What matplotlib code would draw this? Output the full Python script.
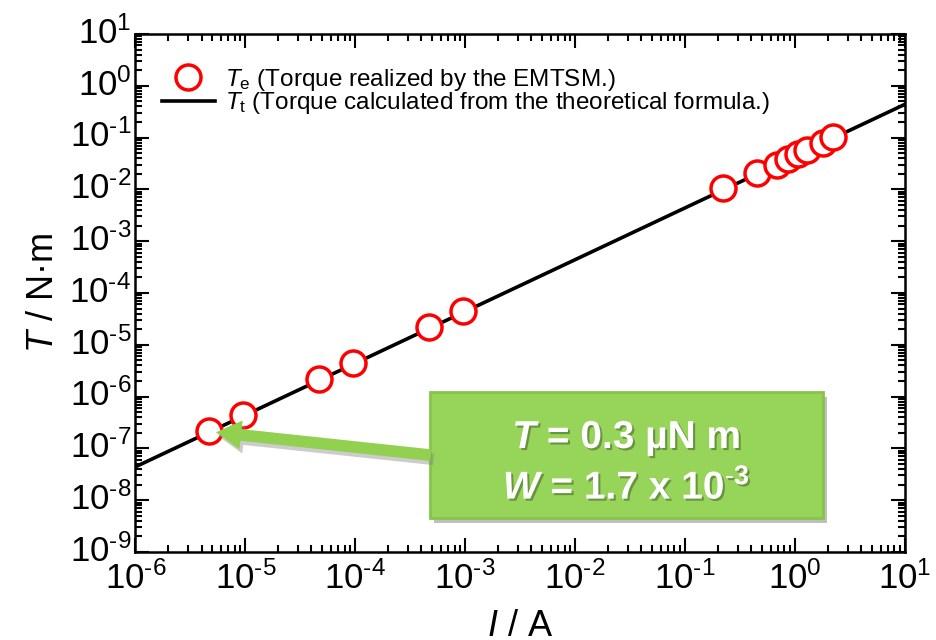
import numpy as np
import matplotlib
matplotlib.use("Agg")
import matplotlib.pyplot as plt
from matplotlib.ticker import LogLocator, NullFormatter, FuncFormatter
from matplotlib.lines import Line2D
from matplotlib.patches import FancyBboxPatch
from matplotlib.transforms import ScaledTranslation
import matplotlib.patheffects as pe

plt.rcParams['font.family'] = ['Liberation Sans', 'DejaVu Sans']
plt.rcParams['mathtext.fontset'] = 'custom'
plt.rcParams['mathtext.rm'] = 'Liberation Sans'
plt.rcParams['mathtext.it'] = 'Liberation Sans:italic'
plt.rcParams['mathtext.bf'] = 'Liberation Sans:bold'
plt.rcParams['mathtext.bfit'] = 'Liberation Sans:italic:bold'
plt.rcParams['axes.unicode_minus'] = False

current = [4.7e-6, 9.5e-6, 4.7e-5, 9.5e-5, 4.7e-4, 9.5e-4,
           0.22, 0.45, 0.68, 0.86, 1.06, 1.29, 1.79, 2.2]
torque = [2.2e-7, 4.5e-7, 2.2e-6, 4.5e-6, 2.2e-5, 4.5e-5,
          0.0106, 0.0207, 0.0296, 0.0386, 0.048, 0.0577, 0.0787, 0.103]

# theoretical line end points
line_current = [1e-6, 10]
line_torque = [4.4e-8, 0.44]


def pow_label(v, pos):
    e = int(round(np.log10(v)))
    if e < 0:
        return r'$10^{\text{-}%d}$' % (-e)
    return r'$10^{%d}$' % e


fig = plt.figure(figsize=(9.36, 6.4), dpi=100)
ax = fig.add_axes([0.1446, 0.1375, 0.8223, 0.8094])

ax.plot(line_current, line_torque, color='black', lw=2.6, zorder=2)
ax.plot(current, torque, 'o', ms=18, mfc='white', mec='red', mew=2.5, zorder=3,
        clip_on=False)

ax.set_xscale('log')
ax.set_yscale('log')
ax.set_xlim(1e-6, 10)
ax.set_ylim(1e-9, 10)

for a in (ax.xaxis, ax.yaxis):
    a.set_major_locator(LogLocator(base=10, numticks=30))
    a.set_minor_locator(LogLocator(base=10, subs=np.arange(2, 10), numticks=30))
    a.set_major_formatter(FuncFormatter(pow_label))
    a.set_minor_formatter(NullFormatter())

ax.tick_params(which='both', direction='in', top=True, right=True, width=1.5)
ax.tick_params(which='major', length=10, labelsize=25)
ax.tick_params(which='minor', length=5)
ax.tick_params(axis='x', pad=7)
ax.tick_params(axis='y', pad=3)
for s in ax.spines.values():
    s.set_linewidth(1.8)

# y tick labels sit a little high in the original
for lab in ax.get_yticklabels():
    lab.set_transform(lab.get_transform() + ScaledTranslation(0, 3 / 72, fig.dpi_scale_trans))

ax.set_xlabel(r'$\mathit{I}$ / A', fontsize=26, labelpad=9)
ax.set_ylabel(r'$\mathit{T}$ / N·m', fontsize=26, labelpad=6)

handles = [Line2D([], [], marker='o', ls='none', ms=18, mfc='white', mec='red', mew=2.5),
           Line2D([], [], color='black', lw=2.6)]
labels = [r'$\mathit{T}_\mathrm{e}$ (Torque realized by the EMTSM.)',
          r'$\mathit{T}_\mathrm{t}$ (Torque calculated from the theoretical formula.)']
ax.legend(handles, labels, loc='upper left', bbox_to_anchor=(0.012, 0.97),
          frameon=False, fontsize=17.5, handlelength=2.2, handletextpad=0.4,
          labelspacing=-0.1, borderaxespad=0.3)

# green callout box
box = FancyBboxPatch((0.383, 0.066), 0.510, 0.243, boxstyle='square,pad=0',
                     transform=ax.transAxes, facecolor='#97D45A',
                     edgecolor='#86C44A', lw=2, zorder=4,
                     path_effects=[pe.withSimplePatchShadow(offset=(3, -4),
                                                            shadow_rgbFace='gray',
                                                            alpha=0.5)])
ax.add_patch(box)

shadow = [pe.withSimplePatchShadow(offset=(1.5, -1.5), shadow_rgbFace='#4a6a2a', alpha=0.6)]
ax.text(0.638, 0.219, r'$\mathbfit{T}$ = 0.3 µN m', transform=ax.transAxes,
        ha='center', va='center', fontsize=28, fontweight='bold', color='white',
        zorder=5, path_effects=shadow)
ax.text(0.638, 0.124, r'$\mathbfit{W}$ = 1.7 x $\mathbf{10^{\text{-}3}}$', transform=ax.transAxes,
        ha='center', va='center', fontsize=28, fontweight='bold', color='white',
        zorder=5, path_effects=shadow)

ax.annotate('', xy=(current[0] * 1.15, torque[0] * 0.93), xycoords='data',
            xytext=(0.384, 0.187), textcoords='axes fraction',
            arrowprops=dict(arrowstyle='simple,head_length=1.3,head_width=1.5,tail_width=0.6',
                            facecolor='#92D050', edgecolor='none', shrinkA=0, shrinkB=0,
                            mutation_scale=14,
                            path_effects=[pe.withSimplePatchShadow(offset=(2, -3),
                                                                   shadow_rgbFace='gray',
                                                                   alpha=0.4)]),
            zorder=4)

fig.savefig('out.png', dpi=100)
